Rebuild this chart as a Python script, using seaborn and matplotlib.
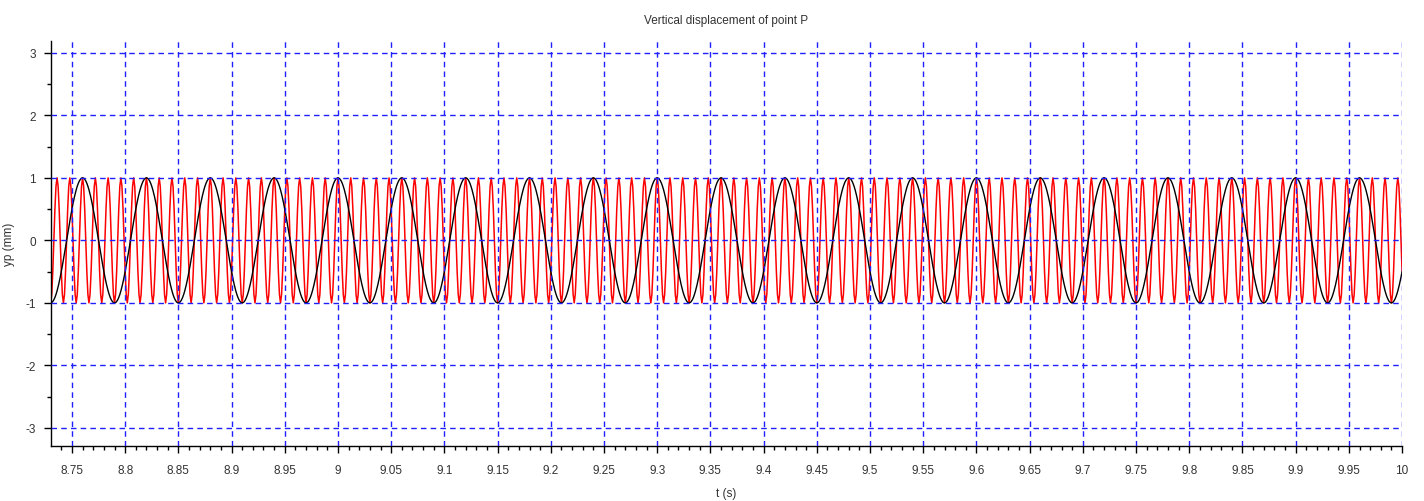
import numpy as np
import pandas as pd
import matplotlib
matplotlib.use("Agg")
import matplotlib.pyplot as plt
from matplotlib.ticker import MultipleLocator
import seaborn as sns

# values
t_start, t_end = 8.73, 10.0
amplitude = 1.0
black_period = 0.06      # s, peaks at 8.76, 8.82, ...
black_peak = 8.76
red_period = 0.012       # s, five red cycles per black cycle
red_step = 0.001         # s, sampling of the red trace
x_ticks = [8.75, 8.8, 8.85, 8.9, 8.95, 9, 9.05, 9.1, 9.15, 9.2, 9.25, 9.3,
           9.35, 9.4, 9.45, 9.5, 9.55, 9.6, 9.65, 9.7, 9.75, 9.8, 9.85,
           9.9, 9.95, 10]
y_ticks = [-3, -2, -1, 0, 1, 2, 3]

t_fine = np.arange(t_start, t_end + 1e-9, 0.0005)
black = pd.DataFrame({"t": t_fine,
                      "yp": amplitude * np.cos(2 * np.pi * (t_fine - black_peak) / black_period)})
t_red = np.arange(t_start, t_end + 1e-9, red_step)
red = pd.DataFrame({"t": t_red,
                    "yp": amplitude * np.cos(2 * np.pi * (t_red - black_peak) / red_period)})

sns.set_style("white")
plt.rcParams["font.family"] = ["Liberation Sans", "DejaVu Sans"]
plt.rcParams["axes.unicode_minus"] = False

fig = plt.figure(figsize=(14.24, 5.02), dpi=100)
ax = fig.add_axes([0.0358, 0.1096, 0.9488, 0.8067])

sns.lineplot(data=red, x="t", y="yp", ax=ax, color="red", linewidth=1.1,
             estimator=None, sort=False)
sns.lineplot(data=black, x="t", y="yp", ax=ax, color="black", linewidth=1.0,
             estimator=None, sort=False)

ax.set_xlim(8.7303, 10.0)
ax.set_ylim(-3.29, 3.19)
ax.set_xticks(x_ticks)
ax.set_xticklabels([f"{v:g}" for v in x_ticks])
ax.set_yticks(y_ticks)
ax.xaxis.set_minor_locator(MultipleLocator(0.01))
ax.yaxis.set_minor_locator(MultipleLocator(0.5))

ax.grid(True, which="major", color="#2020ff", linestyle=(0, (4, 3)), linewidth=1.0)
ax.set_axisbelow(False)

for s in ["top", "right"]:
    ax.spines[s].set_visible(False)
for s in ["left", "bottom"]:
    ax.spines[s].set_color("black")
    ax.spines[s].set_linewidth(1.0)

ax.tick_params(axis="both", which="major", direction="out", length=5, width=1,
               labelsize=8.5, labelcolor="#333333", color="black", bottom=True, left=True)
ax.tick_params(axis="both", which="minor", direction="out", length=3, width=1,
               color="black", bottom=True, left=True)
ax.tick_params(axis="x", pad=8)
ax.tick_params(axis="y", pad=6)

ax.set_title("Vertical displacement of point P", fontsize=8.5, color="#333333", pad=13)
ax.set_xlabel("t (s)", fontsize=8.5, color="#333333", labelpad=8)
ax.set_ylabel("yp (mm)", fontsize=8.5, color="#333333", labelpad=7)

fig.savefig("out.png", dpi=100)
